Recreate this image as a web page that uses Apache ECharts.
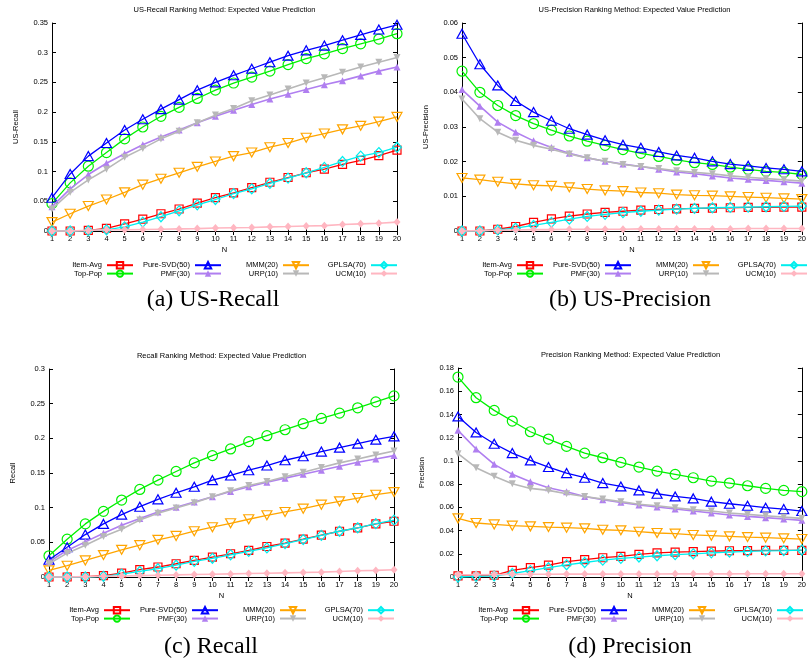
<!DOCTYPE html>
<html><head><meta charset="utf-8">
<script src="https://cdn.jsdelivr.net/npm/echarts@6/dist/echarts.min.js"></script>
<style>html,body{margin:0;padding:0;background:#fff}#c{width:809px;height:664px}</style>
</head><body><div id="c"></div>
<script>
// ---------- data ----------
const N = [1,2,3,4,5,6,7,8,9,10,11,12,13,14,15,16,17,18,19,20];
const seriesNames = ['Item-Avg','Top-Pop','Pure-SVD(50)','PMF(30)','MMM(20)','URP(10)','GPLSA(70)','UCM(10)'];
const panelTitles = ['US-Recall Ranking Method: Expected Value Prediction','US-Precision Ranking Method: Expected Value Prediction','Recall Ranking Method: Expected Value Prediction','Precision Ranking Method: Expected Value Prediction'];
const yNames = ['US-Recall','US-Precision','Recall','Precision'];
const captions = ['(a) US-Recall','(b) US-Precision','(c) Recall','(d) Precision'];
const yMax = [0.35, 0.06, 0.3, 0.18];
const yStep = [0.05, 0.01, 0.05, 0.02];

// (a) US-Recall
const usRecallItemAvg = [0,0,0.001,0.0045,0.012,0.020,0.029,0.037,0.047,0.056,0.064,0.073,0.082,0.090,0.098,0.104,0.112,0.119,0.127,0.136];
const usRecallTopPop  = [0.046,0.081,0.109,0.132,0.155,0.175,0.193,0.208,0.223,0.237,0.249,0.259,0.269,0.280,0.290,0.298,0.307,0.315,0.323,0.332];
const usRecallPureSVD = [0.056,0.096,0.126,0.148,0.170,0.188,0.205,0.221,0.237,0.250,0.262,0.273,0.284,0.295,0.304,0.312,0.321,0.330,0.339,0.347];
const usRecallPMF     = [0.041,0.071,0.095,0.114,0.130,0.145,0.158,0.170,0.182,0.193,0.203,0.213,0.222,0.230,0.238,0.246,0.253,0.261,0.269,0.276];
const usRecallMMM     = [0.015,0.029,0.042,0.053,0.065,0.078,0.088,0.098,0.108,0.117,0.126,0.132,0.141,0.148,0.157,0.164,0.171,0.177,0.184,0.192];
const usRecallURP     = [0.037,0.065,0.086,0.104,0.124,0.139,0.155,0.168,0.182,0.195,0.206,0.219,0.229,0.239,0.249,0.258,0.267,0.276,0.284,0.292];
const usRecallGPLSA   = [0,0,0.0005,0.002,0.007,0.015,0.024,0.034,0.044,0.053,0.063,0.071,0.080,0.089,0.098,0.107,0.117,0.126,0.132,0.141];
const usRecallUCM     = [0,0,0.001,0.002,0.002,0.0025,0.003,0.0035,0.004,0.005,0.0055,0.006,0.007,0.0075,0.0085,0.009,0.011,0.012,0.013,0.015];

// (b) US-Precision
const usPrecItemAvg = [0,0,0.0005,0.0013,0.0025,0.0035,0.0043,0.0049,0.0054,0.0057,0.006,0.0062,0.0064,0.0065,0.0066,0.0067,0.0068,0.0068,0.0069,0.0069];
const usPrecTopPop  = [0.0461,0.040,0.0362,0.0333,0.031,0.0291,0.0274,0.0259,0.0247,0.0235,0.0224,0.0215,0.0205,0.0197,0.0192,0.0184,0.0178,0.0172,0.0169,0.0163];
const usPrecPureSVD = [0.0569,0.0481,0.042,0.0375,0.0343,0.0318,0.0295,0.0278,0.0262,0.0249,0.024,0.0228,0.0218,0.0211,0.0201,0.0193,0.0188,0.0182,0.0178,0.0172];
const usPrecPMF     = [0.0408,0.036,0.0314,0.0285,0.026,0.0241,0.0224,0.0211,0.0201,0.0193,0.0186,0.0178,0.017,0.0165,0.0159,0.0153,0.0149,0.0146,0.0142,0.0138];
const usPrecMMM     = [0.0153,0.0148,0.0142,0.0136,0.0132,0.013,0.0126,0.0121,0.0117,0.0115,0.0111,0.0109,0.0105,0.0103,0.0102,0.01,0.0098,0.0096,0.0094,0.0092];
const usPrecURP     = [0.0381,0.0324,0.0285,0.0262,0.0247,0.0236,0.0222,0.0211,0.0201,0.0192,0.0186,0.018,0.0174,0.0169,0.0165,0.0159,0.0155,0.0151,0.0148,0.0144];
const usPrecGPLSA   = [0,0,0.0003,0.0008,0.0016,0.0025,0.0034,0.0042,0.0048,0.0053,0.0057,0.006,0.0063,0.0065,0.0067,0.0068,0.0069,0.007,0.0071,0.0072];
const usPrecUCM     = [0,0.0001,0.0002,0.0003,0.0004,0.0004,0.0005,0.0005,0.0005,0.0005,0.0006,0.0006,0.0006,0.0006,0.0006,0.0006,0.0007,0.0007,0.0007,0.0007];

// (c) Recall
const recallItemAvg = [0,0,0.0005,0.002,0.0057,0.0105,0.0144,0.0191,0.0239,0.0287,0.0335,0.0383,0.044,0.0488,0.0545,0.0603,0.066,0.0708,0.0766,0.0804];
const recallTopPop  = [0.0306,0.0545,0.0766,0.0947,0.111,0.1263,0.1397,0.1522,0.1646,0.1751,0.1847,0.1952,0.2038,0.2124,0.2211,0.2287,0.2364,0.244,0.2526,0.2612];
const recallPureSVD = [0.0249,0.043,0.0612,0.0766,0.09,0.1014,0.112,0.1215,0.1301,0.1397,0.1464,0.154,0.1608,0.1684,0.1742,0.1809,0.1866,0.1923,0.1981,0.2029];
const recallPMF     = [0.022,0.0383,0.0507,0.0632,0.0746,0.0842,0.0938,0.1005,0.1081,0.1158,0.1234,0.1301,0.1368,0.1426,0.1483,0.154,0.1598,0.1656,0.1703,0.1751];
const recallMMM     = [0.0096,0.0163,0.0239,0.0316,0.0392,0.0459,0.0536,0.0593,0.066,0.0718,0.0775,0.0833,0.089,0.0938,0.0986,0.1043,0.1091,0.1139,0.1187,0.1225];
const recallURP     = [0.0191,0.0344,0.0459,0.0584,0.0689,0.0823,0.0919,0.0995,0.1072,0.1158,0.1244,0.1321,0.1378,0.1445,0.1512,0.1579,0.1646,0.1703,0.1761,0.1818];
const recallGPLSA   = [0,0,0,0.001,0.004,0.008,0.012,0.017,0.0225,0.027,0.032,0.037,0.042,0.048,0.054,0.060,0.066,0.071,0.077,0.082];
const recallUCM     = [0,0,0.0005,0.001,0.0015,0.002,0.0025,0.003,0.0035,0.004,0.0045,0.005,0.0055,0.006,0.0065,0.007,0.008,0.009,0.0095,0.0105];

// (d) Precision
const precItemAvg = [0.001,0.001,0.0015,0.0057,0.008,0.0103,0.0132,0.0149,0.0166,0.0178,0.0195,0.0207,0.0215,0.0218,0.0222,0.0226,0.0228,0.023,0.023,0.023];
const precTopPop  = [0.1722,0.1544,0.1435,0.1343,0.1251,0.1188,0.1125,0.1067,0.1027,0.0987,0.0947,0.0912,0.0884,0.0855,0.0826,0.0809,0.0786,0.0763,0.0746,0.0735];
const precPureSVD = [0.1383,0.1245,0.1148,0.1067,0.1004,0.0947,0.0895,0.0855,0.0809,0.078,0.0746,0.0717,0.0694,0.0677,0.0649,0.0631,0.0614,0.0597,0.0585,0.0568];
const precPMF     = [0.1263,0.1102,0.097,0.0884,0.0821,0.0769,0.0735,0.0694,0.0666,0.0643,0.062,0.0603,0.0585,0.0568,0.0551,0.0534,0.0522,0.0511,0.0499,0.0488];
const precMMM     = [0.0505,0.0465,0.0453,0.0442,0.0436,0.043,0.0425,0.0419,0.0407,0.0402,0.039,0.0379,0.0373,0.0362,0.0356,0.035,0.0344,0.0339,0.0333,0.0327];
const precURP     = [0.1062,0.0941,0.0867,0.0803,0.0763,0.0746,0.0717,0.0694,0.0671,0.0649,0.0626,0.0614,0.0597,0.058,0.0568,0.0551,0.0539,0.0528,0.0516,0.0505];
const precGPLSA   = [0,0.0005,0.001,0.003,0.0055,0.008,0.0105,0.0125,0.0145,0.016,0.0172,0.0183,0.0192,0.02,0.0208,0.0215,0.022,0.0225,0.0228,0.0232];
const precUCM     = [0.002,0.002,0.0022,0.0023,0.0024,0.0024,0.0025,0.0025,0.0025,0.0026,0.0026,0.0026,0.0027,0.0027,0.0027,0.0027,0.0028,0.0028,0.0028,0.0028];

const panelData = [
  [usRecallItemAvg,usRecallTopPop,usRecallPureSVD,usRecallPMF,usRecallMMM,usRecallURP,usRecallGPLSA,usRecallUCM],
  [usPrecItemAvg,usPrecTopPop,usPrecPureSVD,usPrecPMF,usPrecMMM,usPrecURP,usPrecGPLSA,usPrecUCM],
  [recallItemAvg,recallTopPop,recallPureSVD,recallPMF,recallMMM,recallURP,recallGPLSA,recallUCM],
  [precItemAvg,precTopPop,precPureSVD,precPMF,precMMM,precURP,precGPLSA,precUCM]
];

// ---------- styles / layout ----------
const FONT = 'Liberation Sans, Arial, sans-serif';
const DOWN = 'path://M0,0L10,0L5,9Z';
const styles = [
  {color:'#ff0000', symbol:'rect',     size:8,  open:true,  lw:1.3},
  {color:'#00f000', symbol:'circle',   size:10, open:true,  lw:1.3},
  {color:'#0000ff', symbol:'triangle', size:[10,9], open:true, lw:1.3},
  {color:'#b07ff0', symbol:'triangle', size:[7,7], open:false, lw:1.6},
  {color:'#ffa500', symbol:DOWN,       size:[10,9], open:true, lw:1.3},
  {color:'#b8b8b8', symbol:DOWN,       size:[7,7], open:false, lw:1.6},
  {color:'#00eeee', symbol:'diamond',  size:[9,10], open:true, lw:1.3},
  {color:'#ffb6c1', symbol:'diamond',  size:[7,8], open:false, lw:1.6}
];
const grids = [
  {left:52,  top:23,  width:345, height:208},
  {left:462, top:23,  width:345, height:208},
  {left:49,  top:369, width:345, height:208},
  {left:458, top:368, width:345, height:209}
];
const legendTops = [261, 261, 606, 606];
const captionPos = [[213,288],[630,288],[211,635],[630,635]];

const axisLine = {show:true, lineStyle:{color:'#000', width:1}};
const tick = {show:true, inside:true, length:4, lineStyle:{color:'#000', width:1}};
const lbl = {fontSize:7.5, color:'#000', fontFamily:FONT};

const xAxis = [], yAxis = [], series = [], legend = [], title = [];
grids.forEach((g, p) => {
  xAxis.push({gridIndex:p, type:'value', position:'bottom', min:1, max:20, interval:1,
    axisLine, axisTick:tick, splitLine:{show:false}, axisLabel:Object.assign({margin:4}, lbl),
    name:'N', nameLocation:'middle', nameGap:15, nameTextStyle:lbl});
  xAxis.push({gridIndex:p, type:'value', position:'top', min:1, max:20, interval:1,
    axisLine, axisTick:tick, splitLine:{show:false}, axisLabel:{show:false}});
  yAxis.push({gridIndex:p, type:'value', position:'left', min:0, max:yMax[p], interval:yStep[p],
    axisLine, axisTick:tick, splitLine:{show:false}, axisLabel:Object.assign({margin:4}, lbl),
    name:yNames[p], nameLocation:'middle', nameGap:32, nameTextStyle:lbl});
  yAxis.push({gridIndex:p, type:'value', position:'right', min:0, max:yMax[p], interval:yStep[p],
    axisLine, axisTick:tick, splitLine:{show:false}, axisLabel:{show:false}});

  panelData[p].forEach((arr, s) => {
    const st = styles[s];
    series.push({
      type:'line', name:seriesNames[s], xAxisIndex:2*p, yAxisIndex:2*p,
      data:N.map((n,k)=>[n, arr[k]]),
      symbol:st.symbol, symbolSize:st.size, showAllSymbol:true,
      lineStyle:{color:st.color, width:st.lw},
      itemStyle: st.open ? {color:'rgba(255,255,255,0)', borderColor:st.color, borderWidth:1.2}
                         : {color:st.color, borderWidth:0},
      emphasis:{disabled:true}, z:2+s, clip:false
    });
  });

  for (let c = 0; c < 4; c++) {
    legend.push({
      data:[seriesNames[2*c], seriesNames[2*c+1]], orient:'vertical', align:'right',
      right: 809 - (g.left + 82 + 88*c), top: legendTops[p], padding:0,
      itemWidth:26, itemHeight:8, itemGap:0, selectedMode:false,
      textStyle:{fontSize:7.5, color:'#000', fontFamily:FONT, lineHeight:8.3}
    });
  }

  title.push({text:panelTitles[p], left:g.left + g.width/2, top:g.top - 17, textAlign:'center', padding:0,
    textStyle:{fontSize:7.5, fontWeight:'normal', color:'#000', fontFamily:FONT}});
  title.push({text:captions[p], left:captionPos[p][0], top:captionPos[p][1], textAlign:'center', padding:0,
    textStyle:{fontSize:24, fontWeight:'normal', color:'#000', fontFamily:'Liberation Serif, DejaVu Serif, serif'}});
});

const chart = echarts.init(document.getElementById('c'), null, {renderer:'canvas'});
chart.setOption({
  animation:false, backgroundColor:'#fff',
  textStyle:{fontFamily:FONT},
  title, grid:grids, xAxis, yAxis, legend, series, tooltip:{show:false}
});
</script>
</body></html>
